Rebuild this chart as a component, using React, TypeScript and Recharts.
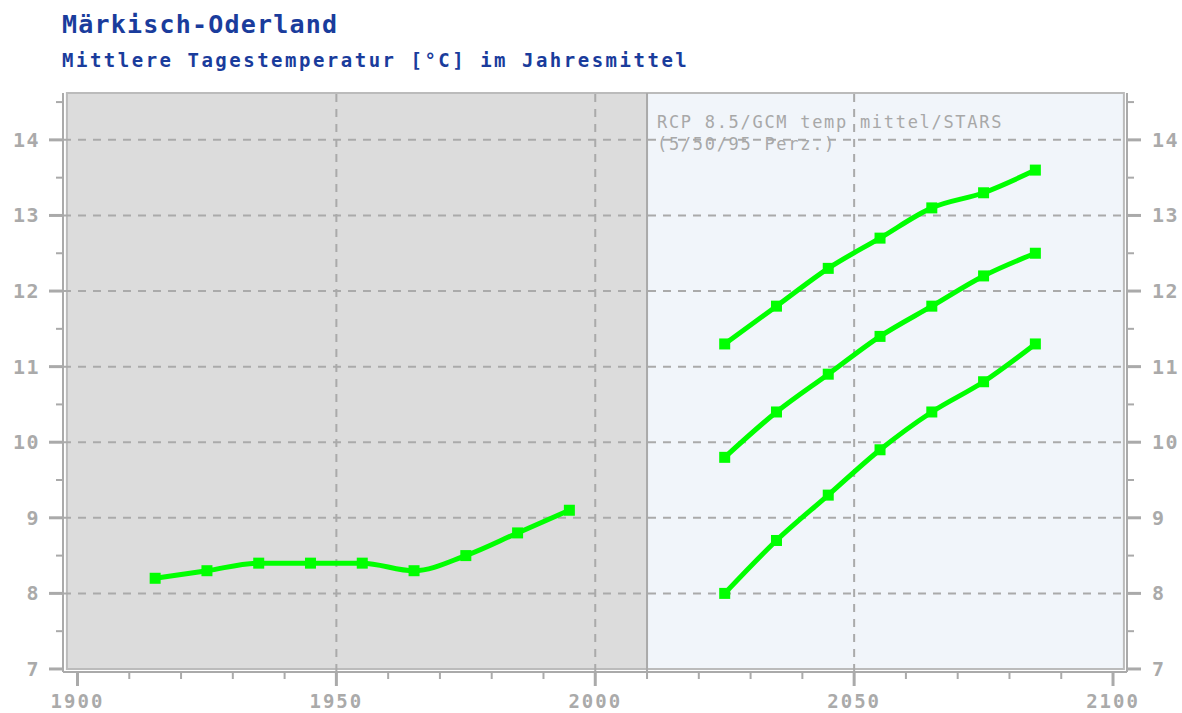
import React from 'react';
import { ComposedChart, Line, XAxis, YAxis, ReferenceArea, ReferenceLine } from 'recharts';

// observed decades
const histYears = [1915, 1925, 1935, 1945, 1955, 1965, 1975, 1985, 1995];
const histTemp = [8.2, 8.3, 8.4, 8.4, 8.4, 8.3, 8.5, 8.8, 9.1];

// RCP 8.5 projections (5/50/95 percentile)
const projYears = [2025, 2035, 2045, 2055, 2065, 2075, 2085];
const p95 = [11.3, 11.8, 12.3, 12.7, 13.1, 13.3, 13.6];
const p50 = [9.8, 10.4, 10.9, 11.4, 11.8, 12.2, 12.5];
const p5 = [8.0, 8.7, 9.3, 9.9, 10.4, 10.8, 11.3];

const xTicks = [1900, 1910, 1920, 1930, 1940, 1950, 1960, 1970, 1980, 1990, 2000, 2010, 2020, 2030, 2040, 2050, 2060, 2070, 2080, 2090, 2100];
const yTicks = [7, 7.5, 8, 8.5, 9, 9.5, 10, 10.5, 11, 11.5, 12, 12.5, 13, 13.5, 14, 14.5];
const xGrid = [1950, 2000, 2050];
const yGrid = [8, 9, 10, 11, 12, 13, 14];

const histData = histYears.map((year, i) => ({ year, t: histTemp[i] }));
const toSeries = (vals: number[]) => projYears.map((year, i) => ({ year, t: vals[i] }));

const GREEN = '#00ff00';
const AXIS = '#aaaaaa';
const MONO = '"DejaVu Sans Mono", monospace';

const Square = (props: any) => {
  const { cx, cy, index } = props;
  if (cx == null || cy == null) return <g key={index} />;
  return <rect key={index} x={cx - 5.5} y={cy - 5.5} width={11} height={11} fill={GREEN} />;
};

const XTick = (props: any) => {
  const { x, y, payload } = props;
  const major = payload.value % 50 === 0;
  return (
    <g>
      <line x1={x} x2={x} y1={y} y2={y + (major ? 14 : 7)} stroke={AXIS} strokeWidth={major ? 3 : 2} />
      {major && (
        <text x={x} y={y + 36} textAnchor="middle" fill={AXIS} fontFamily={MONO} fontWeight="bold" fontSize={19} letterSpacing={2}>
          {payload.value}
        </text>
      )}
    </g>
  );
};

const YTick = (props: any) => {
  const { x, y, payload, side } = props;
  const major = Number.isInteger(payload.value);
  const dir = side === 'right' ? 1 : -1;
  const len = major ? 14 : 7;
  return (
    <g>
      <line x1={x} x2={x + dir * len} y1={y} y2={y} stroke={AXIS} strokeWidth={major ? 3 : 2} />
      {major && (
        <text
          x={side === 'right' ? x + 25 : x - 23}
          y={y + 7}
          textAnchor={side === 'right' ? 'start' : 'end'}
          fill={AXIS}
          fontFamily={MONO}
          fontWeight="bold"
          fontSize={20}
          letterSpacing={1.5}
        >
          {payload.value}
        </text>
      )}
    </g>
  );
};

export default function App() {
  return (
    <div style={{ position: 'absolute', left: 0, top: 0, width: 1182, height: 713, background: '#fff', overflow: 'hidden' }}>
      <div style={{ position: 'absolute', left: 0, top: 0 }}>
        <ComposedChart width={1182} height={713} margin={{ top: 93, right: 0, bottom: 0, left: 0 }}>
          <XAxis
            type="number"
            dataKey="year"
            domain={[1897.2, 2102.7]}
            ticks={xTicks}
            interval={0}
            allowDataOverflow
            height={41}
            tickSize={0}
            tickMargin={0}
            tickLine={false}
            axisLine={{ stroke: AXIS, strokeWidth: 2 }}
            tick={<XTick />}
          />
          <YAxis
            yAxisId="l"
            type="number"
            domain={[6.96, 14.62]}
            ticks={yTicks}
            interval={0}
            allowDataOverflow
            width={63}
            tickSize={0}
            tickMargin={0}
            tickLine={false}
            axisLine={{ stroke: AXIS, strokeWidth: 2 }}
            tick={<YTick side="left" />}
          />
          <YAxis
            yAxisId="r"
            orientation="right"
            type="number"
            domain={[6.96, 14.62]}
            ticks={yTicks}
            interval={0}
            allowDataOverflow
            width={55}
            tickSize={0}
            tickMargin={0}
            tickLine={false}
            axisLine={{ stroke: AXIS, strokeWidth: 2 }}
            tick={<YTick side="right" />}
          />
          <ReferenceArea yAxisId="l" x1={1897.95} x2={2010} y1={7.0} y2={14.62} fill="#dcdcdc" fillOpacity={1} stroke="none" ifOverflow="visible" />
          <ReferenceArea yAxisId="l" x1={2010} x2={2102.1} y1={7.0} y2={14.62} fill="#f1f5fa" fillOpacity={1} stroke="none" ifOverflow="visible" />
          <ReferenceArea yAxisId="l" x1={1897.95} x2={2102.1} y1={7.0} y2={14.62} fill="none" stroke="#bbbbbb" strokeWidth={2} ifOverflow="visible" />
          {yGrid.map((v) => (
            <ReferenceLine key={'y' + v} yAxisId="l" y={v} stroke={AXIS} strokeWidth={2} strokeDasharray="8 7" segment={[{ x: 1897.95, y: v }, { x: 2102.1, y: v }]} />
          ))}
          {xGrid.map((v) => (
            <ReferenceLine key={'x' + v} yAxisId="l" x={v} stroke={AXIS} strokeWidth={2} strokeDasharray="8 7" />
          ))}
          <ReferenceLine yAxisId="l" x={2010} stroke="#aaaaaa" strokeWidth={2} />
          <Line yAxisId="l" data={histData} dataKey="t" type="monotone" stroke={GREEN} strokeWidth={5} dot={Square} activeDot={false} isAnimationActive={false} />
          <Line yAxisId="l" data={toSeries(p95)} dataKey="t" type="monotone" stroke={GREEN} strokeWidth={5} dot={Square} activeDot={false} isAnimationActive={false} />
          <Line yAxisId="l" data={toSeries(p50)} dataKey="t" type="monotone" stroke={GREEN} strokeWidth={5} dot={Square} activeDot={false} isAnimationActive={false} />
          <Line yAxisId="l" data={toSeries(p5)} dataKey="t" type="monotone" stroke={GREEN} strokeWidth={5} dot={Square} activeDot={false} isAnimationActive={false} />
        </ComposedChart>
      </div>
      <svg width={1182} height={713} style={{ position: 'absolute', left: 0, top: 0, pointerEvents: 'none' }}>
        <text x={62} y={33} fill="#1a3c9c" fontFamily={MONO} fontWeight="bold" fontSize={25} letterSpacing={1.2}>
          Märkisch-Oderland
        </text>
        <text x={62} y={67} fill="#1a3c9c" fontFamily={MONO} fontWeight="bold" fontSize={19} letterSpacing={2.5}>
          Mittlere Tagestemperatur [°C] im Jahresmittel
        </text>
        <text x={657} y={128} fill="#a8a8a8" fontFamily={MONO} fontSize={17} letterSpacing={1.7}>
          RCP 8.5/GCM temp mittel/STARS
        </text>
        <text x={657} y={150} fill="#a8a8a8" fontFamily={MONO} fontSize={17} letterSpacing={1.7}>
          (5/50/95 Perz.)
        </text>
      </svg>
    </div>
  );
}
